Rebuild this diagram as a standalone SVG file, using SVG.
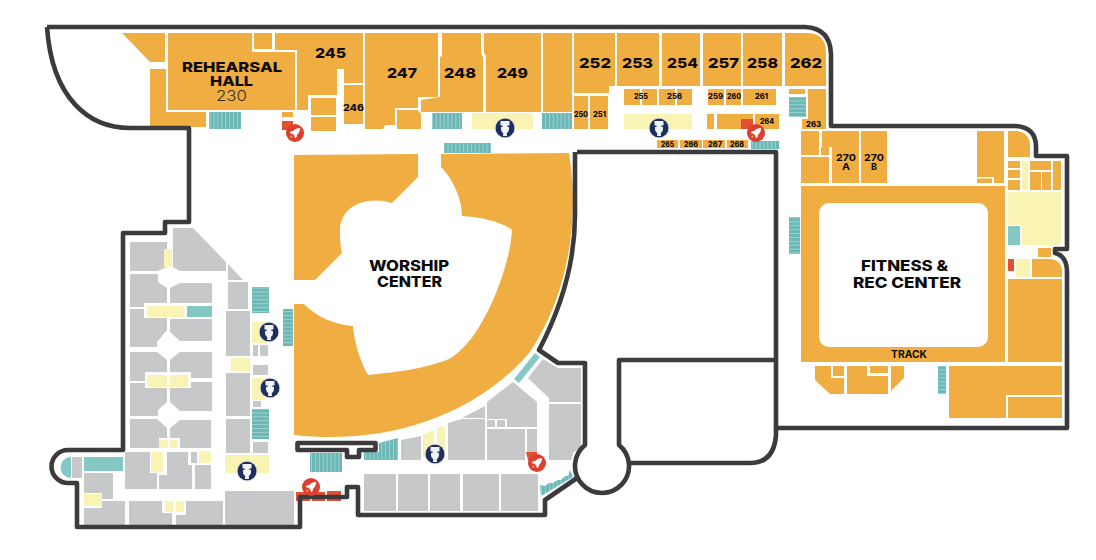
<svg xmlns="http://www.w3.org/2000/svg" width="1096" height="560" viewBox="0 0 1096 560">
<style>
.o{fill:#f0ae42}.g{fill:#c7c8ca}.y{fill:#faf4b4}.t{fill:#84c8c4}.r{fill:#e4502f}
.w{fill:none;stroke:#3b3b3d;stroke-width:4.6;stroke-linejoin:round}
text{font-family:"Inter","Liberation Sans",sans-serif;font-weight:800;fill:#0a0a0a}
.b{font-size:13.8px}.s{font-size:7.4px}.m{font-size:9.5px;font-weight:700}.l{font-size:13.5px}.xl{font-size:14.6px}
.c{font-size:14.5px}.f{font-size:10.5px;font-weight:700}.n{font-size:9px}
</style>
<defs>
<pattern id="sv" width="3.9" height="4" patternUnits="userSpaceOnUse"><rect width="3.9" height="4" fill="#a9d8d6"/><rect width="3.1" height="4" fill="#6cb8b6"/></pattern>
<pattern id="sh" width="4" height="3.9" patternUnits="userSpaceOnUse"><rect width="4" height="3.9" fill="#a9d8d6"/><rect width="4" height="3.1" fill="#6cb8b6"/></pattern>
<g id="rocket">
<circle r="9" fill="#dc3f2f"/>
<g transform="scale(.82)">
<path d="M6.2-6.2C2.8-6.200-.2-4.800-2.300-2.400L-5-2-6.300.2-3.400.6-.6 3.400-.2 6.300 2 5 2.400 2.300C4.800.2 6.200-2.800 6.200-6.200Z" fill="#fff"/>
<path d="M-4.500 2.800-6 6-2.800 4.500Z" fill="#f7c24b"/>
</g>
</g>
<g id="wc">
<circle r="9.600" fill="#1c2f5e"/><circle r="10" fill="none" stroke="#c9ccd8" stroke-width=".6"/>
<path d="M-4.500-7H4.500V-2.500H2.500V-1H4V1C4 3.500 2.500 4.500 1.800 5L2 8H-2L-1.800 5C-2.500 4.500-4 3.500-4 1V-1H-2.500V-2.500H-4.500Z" fill="#f1f2f6"/>
</g>
</defs>
<rect width="1096" height="560" fill="#fff"/>

<g id="rooms-top" class="o">
<polygon points="122,33 165,33 165,62 150,62"/>
<polygon points="150,69 166,69 166,112 206,112 206,127 150,127"/>
<polygon points="168,33 252,33 252,52 295,52 295,110 168,110"/>
<rect x="254" y="33" width="18" height="16"/>
<polygon points="275,33 363,33 363,83 344,83 344,69 337,69 337,95 308,95 308,110 297,110 297,50 275,50"/>
<rect x="344" y="85" width="19" height="39"/>
<rect x="311" y="98" width="25" height="17"/>
<rect x="311" y="117" width="25" height="14"/>
<rect x="282" y="112" width="11" height="5"/>
<polygon points="365,33 438,33 438,97 418,97 418,108 395,108 395,125 385,125 383,129 365,129"/>
<polygon points="397,110 418,110 421,114 421,129 397,129"/>
<polygon points="421,100 440,97 440,57 442,56 442,33 481,33 481,53 483,57 483,112 421,112"/>
<polygon points="484,33 541,33 541,112 486,112 486,56 484,53"/>
<rect x="543" y="33" width="29" height="79"/>
<polygon points="574,33 615,33 615,86 609,86 609,93 574,93"/>
<rect x="617" y="33" width="42" height="53"/>
<rect x="662" y="33" width="38" height="53"/>
<rect x="703" y="33" width="38" height="53"/>
<rect x="743" y="33" width="39" height="53"/>
<path d="M785 33H808Q826 34 826 52V86H785Z"/>
<rect x="574" y="96" width="14" height="33"/>
<rect x="590" y="96" width="18" height="33"/>
<rect x="624" y="89" width="16" height="16"/>
<rect x="642" y="89" width="15" height="16"/>
<rect x="659" y="89" width="16" height="16"/>
<rect x="677" y="89" width="15" height="16"/>
<rect x="708" y="89" width="16" height="16"/>
<rect x="726" y="89" width="15" height="16"/>
<rect x="743" y="89" width="33" height="16"/>
<rect x="707" y="114" width="7" height="15"/>
<rect x="717" y="114" width="36" height="15"/>
<rect x="755" y="114" width="24" height="15"/>
<rect x="657" y="140" width="21" height="8"/>
<rect x="680" y="140" width="22" height="8"/>
<rect x="703" y="140" width="22" height="8"/>
<rect x="727" y="140" width="21" height="8"/>
<rect x="789" y="89" width="16" height="5"/>
<polygon points="808,89 826,89 826,129 802,129 802,119 808,119"/>
</g>

<g id="rooms-fitness" class="o">
<rect x="801" y="131" width="18" height="24"/>
<rect x="801" y="157" width="28" height="26"/>
<rect x="821" y="147" width="8" height="8"/>
<polygon points="822,131 859,131 859,183 832,183 832,147 822,147"/>
<rect x="861" y="131" width="26" height="52"/>
<path fill-rule="evenodd" d="M801 186H1005V362H801ZM829 203A10 10 0 0 0 819 213V337A10 10 0 0 0 829 347H978A10 10 0 0 0 988 337V213A10 10 0 0 0 978 203Z"/>
<polygon points="977,131 1004,131 1004,183 994,183 994,177 977,177"/>
<rect x="977" y="178.500" width="15" height="4.500"/>
<path d="M1008 131H1017Q1030 133 1030 146V157H1008Z"/>
<rect x="1008" y="161" width="12" height="7"/>
<rect x="1008" y="170" width="12" height="8"/>
<rect x="1008" y="180" width="12" height="10"/>
<rect x="1030" y="161" width="21" height="9"/>
<rect x="1030" y="172" width="11" height="18"/>
<rect x="1042" y="172" width="9" height="18"/>
<rect x="1053" y="161" width="8" height="29"/>
<rect x="1038" y="248" width="13" height="9"/>
<path d="M1032 259H1051Q1060 260 1062 269V277H1032Z"/>
<rect x="1008" y="279" width="54" height="83"/>
<polygon points="949,366 1062,366 1062,395 1006,395 1006,418 949,418"/>
<rect x="1008" y="397" width="54" height="21"/>
<polygon points="815,366 831,366 831,378 844,378 844,394 830,394 815,380"/>
<rect x="833" y="366" width="11" height="10"/>
<polygon points="847,366 867,366 867,376 888,376 888,394 847,394"/>
<rect x="870" y="366" width="18" height="7"/>
<polygon points="891,366 904,366 904,378 891,391"/>
</g>

<g id="worship-center">
<path class="o" d="M294 155L418 154V177L392 203C383 200 375 200 368 201C350 204 340 216 340 230C340 238 340 246 342 253L315 280H294Z"/>
<path class="o" d="M441 154L569 153C580 220 568 295 530 352C472 420 380 445 294 435V304H304C315 316 335 325 353 326C354 340 360 362 368 375C400 372 425 368 447 360C480 345 510 270 512 230C500 221 480 217 462 216C462 198 452 178 441 167Z"/>
</g>

<g id="rooms-gray" class="g">
<polygon points="173,228 193,228 226,262 226,271 180,271 173,267"/>
<polygon points="130,242 167,242 167,267 158,271 130,271"/>
<polygon points="228,264 243,280 228,280"/>
<polygon points="130,274 158,274 158,282 167,288 167,303 144,303 144,307 130,307"/>
<polygon points="170,288 180,283 212,283 212,303 170,303"/>
<polygon points="130,309 144,309 144,318 167,318 167,330 157,342 157,347 130,347"/>
<polygon points="170,319 212,319 212,341 180,341 170,332"/>
<polygon points="130,352 157,352 167,360 167,372 145,372 145,381 130,381"/>
<polygon points="170,360 180,352 212,352 212,378 191,378 191,372 170,372"/>
<polygon points="130,383 145,383 145,388 167,388 167,402 158,410 158,416 130,416"/>
<polygon points="170,388 191,388 191,382 212,382 212,411 180,411 170,402"/>
<polygon points="130,419 157,419 167,428 167,438 159,438 159,448 130,448"/>
<polygon points="170,428 180,420 211,420 211,448 180,448 180,438 170,438"/>
<polygon points="125,452 150,452 150,473 157,473 157,489 125,489"/>
<polygon points="167,452 188,452 188,465 192,465 192,489 159,489 159,475 167,475"/>
<rect x="191" y="452" width="6" height="11"/>
<rect x="195" y="465" width="16" height="24"/>
<rect x="72" y="457" width="10" height="21"/>
<polygon points="84,473 113,473 113,499 102,499 102,493 84,493"/>
<polygon points="84,508 102,508 102,501 125,501 125,525 84,525"/>
<polygon points="129,501 162,501 162,513 172,513 172,525 129,525"/>
<polygon points="186,501 223,501 223,525 176,525 176,515 186,515"/>
<rect x="225" y="491" width="69" height="34"/>
<rect x="228" y="282" width="20" height="27"/>
<rect x="226" y="311" width="24" height="45"/>
<rect x="226" y="373" width="24" height="43"/>
<rect x="226" y="419" width="24" height="34"/>
<rect x="253" y="442" width="15" height="11"/>
<rect x="253" y="345" width="5" height="11"/>
<rect x="260" y="345" width="8" height="11"/>
<rect x="253" y="365" width="15" height="10"/>
<rect x="253" y="401" width="8" height="6"/>
<polygon points="401,440 421,436 421,460 401,460"/>
<polygon points="448,423 462,419 485,419 485,460 448,460"/>
<polygon points="462,418 485,406 485,418"/>
<polygon points="487,402 513,382 537,402 537,427 507,427 507,419 487,419"/>
<rect x="487" y="420" width="8" height="7"/>
<rect x="497" y="420" width="8" height="7"/>
<rect x="487" y="429" width="38" height="31"/>
<rect x="527" y="429" width="10" height="23"/>
<polygon points="528,378 543,359 558,368 581,368 581,402 549,402 549,398"/>
<polygon points="549,404 581,404 581,447 573,453 571,460 549,460"/>
<rect x="364" y="474" width="32" height="37"/>
<rect x="398" y="474" width="30" height="37"/>
<rect x="430" y="474" width="30" height="37"/>
<rect x="463" y="474" width="36" height="37"/>
<rect x="501" y="474" width="37" height="37"/>
</g>

<g id="rooms-yellow" class="y">
<rect x="472" y="113" width="61" height="16"/>
<rect x="624" y="114" width="68" height="15"/>
<polygon points="1008,192 1061,192 1061,245 1022,245 1022,225 1008,225"/>
<rect x="1022" y="161" width="6" height="29"/>
<rect x="1016" y="259" width="14" height="18"/>
<rect x="164" y="249" width="8" height="18"/>
<rect x="147" y="306" width="37" height="11"/>
<rect x="147" y="375" width="20" height="12"/>
<rect x="170" y="375" width="18" height="12"/>
<rect x="159" y="440" width="9" height="8"/>
<rect x="170" y="440" width="8" height="8"/>
<rect x="151" y="452" width="12" height="20"/>
<rect x="199" y="451" width="12" height="12"/>
<rect x="84" y="494" width="18" height="12"/>
<rect x="165" y="501" width="8" height="11"/>
<rect x="176" y="501" width="8" height="11"/>
<rect x="231" y="358" width="19" height="13"/>
<rect x="225" y="455" width="44" height="18"/>
<rect x="252" y="322" width="15" height="21"/>
<rect x="252" y="378" width="13" height="22"/>
<polygon points="423,434 434,430 434,458 423,458"/>
<polygon points="437,428 445,426 445,458 437,458"/>
</g>

<g id="rooms-teal" class="t">
<rect x="1008" y="226" width="12" height="19"/>
<rect x="187" y="306" width="25" height="11"/>
<path d="M71 457A10.500 10.500 0 0 0 71 478Z"/>
<rect x="84" y="457" width="39" height="14"/>
<polygon points="514,379 535,353 540,357 519,383"/>
</g>

<g id="rooms-red" class="r">
<rect x="282" y="121" width="11" height="9"/>
<rect x="741" y="119" width="12" height="10"/>
<rect x="1008" y="259" width="6" height="12"/>
<polygon points="526,452 537,452 537,460 528,460"/>
<rect x="296" y="492" width="14" height="9"/>
<rect x="312" y="492" width="13" height="9"/>
<rect x="327" y="491" width="14" height="10"/>
</g>

<g id="stairs">
<rect x="209" y="112" width="32" height="17" fill="url(#sv)"/>
<rect x="432" y="113" width="30" height="16" fill="url(#sv)"/>
<rect x="542" y="113" width="30" height="16" fill="url(#sv)"/>
<rect x="444" y="143" width="47" height="10" fill="url(#sv)"/>
<rect x="751" y="141" width="28" height="8" fill="url(#sv)"/>
<rect x="789" y="97" width="17" height="20" fill="url(#sh)"/>
<rect x="789" y="217" width="11" height="37" fill="url(#sh)"/>
<rect x="938" y="366" width="8" height="28" fill="url(#sh)"/>
<rect x="252" y="287" width="17" height="26" fill="url(#sh)"/>
<rect x="252" y="409" width="17" height="30" fill="url(#sh)"/>
<rect x="283" y="309" width="10" height="37" fill="url(#sh)"/>
<rect x="310" y="453" width="32" height="19" fill="url(#sv)"/>
<polygon points="364,452 379,452 379,443 398,438 398,460 364,460" fill="url(#sv)"/>
<polygon points="540,485 545,486 549,483 553,483 557,480 561,480 565,476 568,476 570,470 573,477 541,496" fill="url(#sv)"/>
</g>

<g id="walls">
<path class="w" d="M47 27H805Q830 28 831 54V126H1015Q1036 127 1036 147V156H1067V249H1055V253Q1067 256 1067 272V428H776V435Q774 463 750 463H630"/>
<path class="w" d="M776 428V152H577M775 360H619V445A27 27 0 1 1 585 445V363H558L539 350C560 310 575 265 575 215V152"/>
<path class="w" d="M577 478L545 500V515H358V487H347V497H300V527H77V483H68A16.500 16.500 0 0 1 68 450H123V233H165V222H189V128H130C90 128 52 100 47 27"/>
<path class="w" d="M297.500 443H375.500V450H359V457H347V450H297.500Z"/>
</g>

<g id="icons">
<use href="#rocket" transform="translate(295 133)"/>
<use href="#rocket" transform="translate(756 133)"/>
<use href="#rocket" transform="translate(537 463)"/>
<use href="#rocket" transform="translate(311 487)"/>
<use href="#wc" transform="translate(505 128)"/>
<use href="#wc" transform="translate(659 128)"/>
<use href="#wc" transform="translate(269 332)"/>
<use href="#wc" transform="translate(270 388)"/>
<use href="#wc" transform="translate(247 471)"/>
<use href="#wc" transform="translate(435 454)"/>
</g>

<g id="labels">
<text class="l" x="182" y="72" textLength="100" lengthAdjust="spacingAndGlyphs">REHEARSAL</text>
<text class="l" x="210" y="86" textLength="43" lengthAdjust="spacingAndGlyphs">HALL</text>
<text class="c" x="216" y="101" textLength="31" lengthAdjust="spacingAndGlyphs" style="font-weight:300;fill:#3a3020">230</text>
<text class="b" x="315" y="58" textLength="31" lengthAdjust="spacingAndGlyphs">245</text>
<text class="n" x="343" y="111" textLength="21" lengthAdjust="spacingAndGlyphs">246</text>
<text class="b" x="387" y="78" textLength="30" lengthAdjust="spacingAndGlyphs">247</text>
<text class="b" x="444" y="78" textLength="32" lengthAdjust="spacingAndGlyphs">248</text>
<text class="b" x="497" y="78" textLength="31" lengthAdjust="spacingAndGlyphs">249</text>
<text class="b" x="579" y="68" textLength="32" lengthAdjust="spacingAndGlyphs">252</text>
<text class="b" x="622" y="68" textLength="31" lengthAdjust="spacingAndGlyphs">253</text>
<text class="b" x="667" y="68" textLength="31" lengthAdjust="spacingAndGlyphs">254</text>
<text class="b" x="708" y="68" textLength="31" lengthAdjust="spacingAndGlyphs">257</text>
<text class="b" x="747" y="68" textLength="31" lengthAdjust="spacingAndGlyphs">258</text>
<text class="b" x="790" y="68" textLength="32" lengthAdjust="spacingAndGlyphs">262</text>
<text class="s" x="574" y="117" textLength="14" lengthAdjust="spacingAndGlyphs">250</text>
<text class="s" x="593" y="117" textLength="13" lengthAdjust="spacingAndGlyphs">251</text>
<text class="s" x="634" y="99" textLength="14" lengthAdjust="spacingAndGlyphs">255</text>
<text class="s" x="667" y="99" textLength="15" lengthAdjust="spacingAndGlyphs">256</text>
<text class="s" x="708" y="99" textLength="15" lengthAdjust="spacingAndGlyphs">259</text>
<text class="s" x="727" y="99" textLength="14" lengthAdjust="spacingAndGlyphs">260</text>
<text class="s" x="755" y="99" textLength="13" lengthAdjust="spacingAndGlyphs">261</text>
<text class="s" x="760" y="124" textLength="14" lengthAdjust="spacingAndGlyphs">264</text>
<text class="s" x="806" y="127" textLength="15" lengthAdjust="spacingAndGlyphs">263</text>
<text class="s" x="661" y="147" textLength="13" lengthAdjust="spacingAndGlyphs">265</text>
<text class="s" x="684" y="147" textLength="14" lengthAdjust="spacingAndGlyphs">266</text>
<text class="s" x="708" y="147" textLength="14" lengthAdjust="spacingAndGlyphs">267</text>
<text class="s" x="730" y="147" textLength="14" lengthAdjust="spacingAndGlyphs">268</text>
<text class="m" x="836" y="161" textLength="20" lengthAdjust="spacingAndGlyphs">270</text>
<text class="m" x="842" y="170" textLength="8" lengthAdjust="spacingAndGlyphs">A</text>
<text class="m" x="864" y="161" textLength="20" lengthAdjust="spacingAndGlyphs">270</text>
<text class="m" x="871" y="170" textLength="6" lengthAdjust="spacingAndGlyphs">B</text>
<text class="xl" x="861" y="271" textLength="87" lengthAdjust="spacingAndGlyphs">FITNESS &amp;</text>
<text class="xl" x="853" y="288" textLength="108" lengthAdjust="spacingAndGlyphs">REC CENTER</text>
<text class="f" x="891" y="358" textLength="36" lengthAdjust="spacingAndGlyphs">TRACK</text>
<text class="c" x="369" y="271" textLength="80" lengthAdjust="spacingAndGlyphs">WORSHIP</text>
<text class="c" x="377" y="287" textLength="65" lengthAdjust="spacingAndGlyphs">CENTER</text>
</g>
</svg>
